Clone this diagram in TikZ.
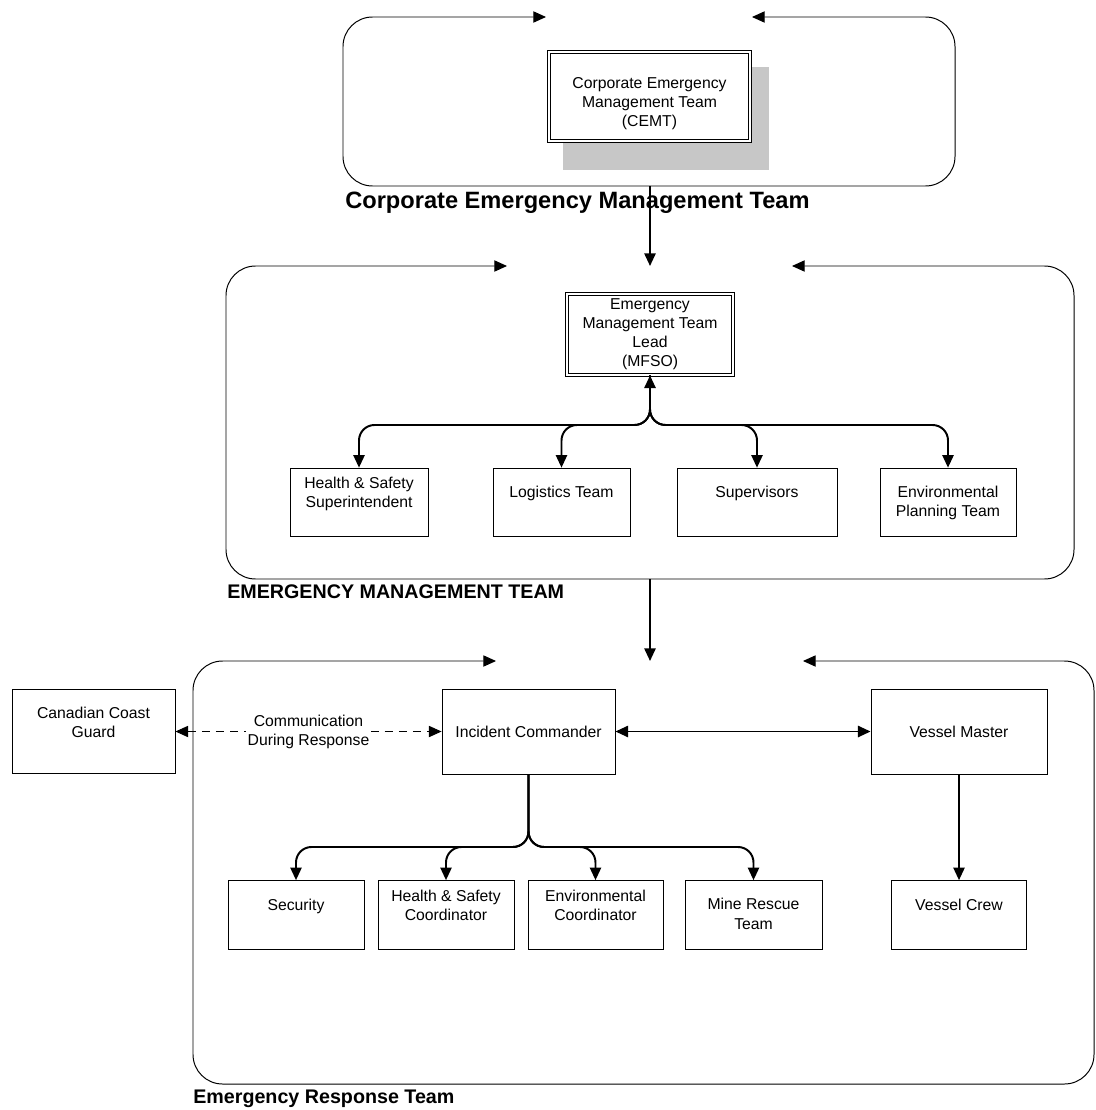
\documentclass[tikz,border=0pt]{standalone}
\usepackage{fontspec}
\setmainfont{Liberation Sans}
\usepackage{tikz}
\usetikzlibrary{arrows.meta}

\newcommand{\unitfont}{\fontsize{11.2}{13.6}\selectfont}
\newcommand{\titlefont}{\fontsize{16.8}{19}\selectfont\bfseries}
\newcommand{\capsfont}{\fontsize{14}{17}\selectfont\bfseries}

\tikzset{
	unitbox/.style={draw, line width=0.6pt, fill=white, align=center, inner sep=0pt, font=\unitfont},
	onetext/.style={unitbox, text height=0.74cm, text depth=0.98cm},
	twotext/.style={unitbox, text height=1.21cm, text depth=0.51cm},
	uppertext/.style={unitbox, text height=0.99cm, text depth=0.73cm},
	leadunit/.style={unitbox, double, double distance=1.3pt},
	teamframe/.style={line width=0.7pt, rounded corners=21pt},
	teamtitle/.style={anchor=base west, inner sep=0pt},
	link/.style={line width=1.4pt},
	branch/.style={link, rounded corners=11pt},
	commline/.style={line width=0.7pt, dash pattern=on 6pt off 4pt},
	commlabel/.style={fill=white, align=center, inner sep=1pt, font=\unitfont}
}

\begin{document}
\begin{tikzpicture}[x=0.025cm, y=-0.025cm, >={Triangle[length=9pt,width=8pt]}]
      \useasboundingbox (0,0) rectangle (1096,1110);

      \draw [teamframe, <->] (546,17) -- (343,17) -- (343,186) -- (955,186) -- (955,17) -- (752,17);
      \draw [teamframe, <->] (507,266) -- (226,266) -- (226,579) -- (1074,579) -- (1074,266) -- (792,266);
      \draw [teamframe, <->] (496,661) -- (193,661) -- (193,1084) -- (1094,1084) -- (1094,661) -- (803,661);

      \coordinate (cemtbot) at (650,186);
      \coordinate (emttop) at (650,266);
      \coordinate (emtbot) at (650,579);
      \coordinate (erttop) at (650,661);

      \node [teamtitle, font=\titlefont] (cemttitle) at (345,208) {Corporate Emergency Management Team};
      \node [teamtitle, font=\capsfont] (emttitle) at (227,598) {EMERGENCY MANAGEMENT TEAM};
      \node [teamtitle, font=\capsfont] (erttitle) at (193,1103) {Emergency Response Team};

      \fill [black!22] (563,67) rectangle (769,170);
      \node [leadunit, minimum width=5.025cm, text height=1.86cm, text depth=0.36cm] (cemt) at (649.5,96.5) {Corporate Emergency\\Management Team\\(CEMT)};

      \node [leadunit, minimum width=4.15cm, minimum height=2.025cm] (lead) at (650,334.5) {Emergency\\Management Team\\Lead\\(MFSO)};
      \coordinate (emtbus) at (650,425);

      \node [uppertext, minimum width=3.45cm] (hss) at (359,502.5) {Health \& Safety\\Superintendent};
      \node [onetext, minimum width=3.425cm] (logi) at (561.5,502.5) {Logistics Team};
      \node [onetext, minimum width=4cm] (supv) at (757,502.5) {Supervisors};
      \node [twotext, minimum width=3.4cm] (envp) at (948,502.5) {Environmental\\Planning Team};

      \node [twotext, minimum width=4.075cm, text depth=0.91cm] (ccg) at (93.5,731.5) {Canadian Coast\\Guard};
      \node [unitbox, minimum width=4.325cm, minimum height=2.125cm] (ic) at (528.5,731.5) {Incident Commander};
      \node [unitbox, minimum width=4.4cm, minimum height=2.125cm] (vm) at (959,731.5) {Vessel Master};
      \coordinate (ertbus) at (528.5,847);

      \node [onetext, minimum width=3.4cm] (sec) at (296,915) {Security};
      \node [uppertext, minimum width=3.4cm] (hsc) at (446,915) {Health \& Safety\\Coordinator};
      \node [uppertext, minimum width=3.375cm] (envc) at (595.5,915) {Environmental\\Coordinator};
      \node [twotext, minimum width=3.425cm] (mrt) at (753.5,915) {Mine Rescue\\Team};
      \node [onetext, minimum width=3.375cm] (crew) at (959,915) {Vessel Crew};

      \draw [link, ->] (cemtbot) to (emttop);
      \draw [link, ->] (emtbot) to (erttop);

      \draw [branch, <->] (lead) -- (emtbus) -- (hss.north |- emtbus) -- (hss);
      \draw [branch, ->] (lead) -- (emtbus) -- (logi.north |- emtbus) -- (logi);
      \draw [branch, ->] (lead) -- (emtbus) -- (supv.north |- emtbus) -- (supv);
      \draw [branch, ->] (lead) -- (emtbus) -- (envp.north |- emtbus) -- (envp);

      \draw [commline, <->] (ccg) -- node [commlabel] (comm) {Communication\\During Response} (ic);
      \draw [link, <->] (ic) to (vm);
      \draw [link, ->] (vm) to (crew);

      \draw [branch, ->] (ic) -- (ertbus) -- (sec.north |- ertbus) -- (sec);
      \draw [branch, ->] (ic) -- (ertbus) -- (hsc.north |- ertbus) -- (hsc);
      \draw [branch, ->] (ic) -- (ertbus) -- (envc.north |- ertbus) -- (envc);
      \draw [branch, ->] (ic) -- (ertbus) -- (mrt.north |- ertbus) -- (mrt);
\end{tikzpicture}
\end{document}
